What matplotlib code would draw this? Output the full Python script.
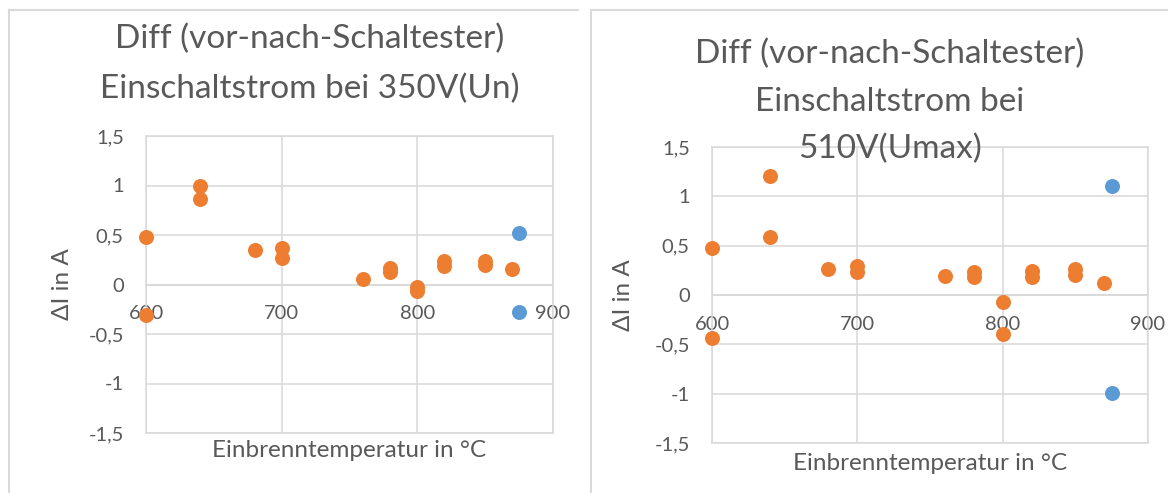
import matplotlib.pyplot as plt
from matplotlib.lines import Line2D
from matplotlib.ticker import FuncFormatter, MultipleLocator

plt.rcParams['font.family'] = ['Lato', 'DejaVu Sans']

ORANGE = '#ED7D31'
BLUE = '#5B9BD5'
GRID = '#D9D9D9'
TEXT = '#595959'

# 350V (Un)
un_orange_x = [600, 600, 640, 640, 680, 700, 700, 760, 780, 780, 800, 800, 820, 820, 850, 850, 870]
un_orange_y = [0.48, -0.31, 1.0, 0.86, 0.35, 0.37, 0.27, 0.06, 0.17, 0.13, -0.03, -0.07, 0.24, 0.19, 0.24, 0.20, 0.16]
un_blue_x = [875, 875]
un_blue_y = [0.52, -0.28]

# 510V (Umax)
umax_orange_x = [600, 600, 640, 640, 680, 700, 700, 760, 780, 780, 800, 800, 820, 820, 850, 850, 870]
umax_orange_y = [0.48, -0.44, 1.21, 0.59, 0.26, 0.29, 0.23, 0.19, 0.23, 0.18, -0.07, -0.40, 0.24, 0.18, 0.26, 0.20, 0.12]
umax_blue_x = [875, 875]
umax_blue_y = [1.10, -0.99]

title_un = ['Diff (vor-nach-Schaltester)', 'Einschaltstrom bei 350V(Un)']
title_umax = ['Diff (vor-nach-Schaltester)', 'Einschaltstrom bei', '510V(Umax)']
xlabel = 'Einbrenntemperatur in °C'
ylabel = 'ΔI in A'

W, H = 1170, 493
fig = plt.figure(figsize=(W / 100, H / 100), dpi=100)


def fx(px):
    return px / W


def fy(py):
    return 1 - py / H


def comma(v, pos):
    return f'{v:g}'.replace('.', ',')


def make_panel(rect, ox, oy, bx, by, xlab_y):
    ax = fig.add_axes(rect)
    ax.set_xlim(600, 900)
    ax.set_ylim(-1.5, 1.5)
    ax.xaxis.set_major_locator(MultipleLocator(100))
    ax.yaxis.set_major_locator(MultipleLocator(0.5))
    ax.yaxis.set_major_formatter(FuncFormatter(comma))
    ax.set_axisbelow(True)
    ax.grid(True, color=GRID, lw=1.1)
    for s in ax.spines.values():
        s.set_color(GRID)
        s.set_linewidth(1.1)
    ax.spines['bottom'].set_position(('data', 0))
    ax.axhline(-1.5, color=GRID, lw=1.1, clip_on=False, zorder=0.5)
    ax.tick_params(length=0, labelsize=14.5, labelcolor=TEXT)
    ax.tick_params(axis='x', pad=15)
    ax.tick_params(axis='y', pad=16)
    ax.plot(bx, by, 'o', color=BLUE, ms=10.8, mew=0, zorder=3, clip_on=False)
    ax.plot(ox, oy, 'o', color=ORANGE, ms=10.8, mew=0, zorder=3, clip_on=False)
    ax.set_xlabel(xlabel, fontsize=17.5, color=TEXT)
    ax.xaxis.set_label_coords(0.5, xlab_y)
    ax.set_ylabel(ylabel, fontsize=17.5, color=TEXT)
    ax.yaxis.set_label_coords(-0.18, 0.5)
    return ax


make_panel([fx(146), fy(433), fx(553) - fx(146), fy(136) - fy(433)],
           un_orange_x, un_orange_y, un_blue_x, un_blue_y, -0.025)
make_panel([fx(712), fy(443), fx(1148) - fx(712), fy(147) - fy(443)],
           umax_orange_x, umax_orange_y, umax_blue_x, umax_blue_y, -0.035)

for line, base in zip(title_un, [48.3, 97.7]):
    fig.text(fx(310), fy(base), line, ha='center', va='baseline', fontsize=24, color=TEXT)
for line, base in zip(title_umax, [62.7, 110.7, 158]):
    fig.text(fx(890), fy(base), line, ha='center', va='baseline', fontsize=24, color=TEXT)

# chart frames
for x0, x1 in [(9, 578), (591, 1167)]:
    fig.add_artist(Line2D([fx(x0), fx(x1)], [fy(10), fy(10)], color=GRID, lw=1.5))
    fig.add_artist(Line2D([fx(x0), fx(x0)], [fy(10), 0], color=GRID, lw=1.5))

fig.savefig('out.png', dpi=100)
